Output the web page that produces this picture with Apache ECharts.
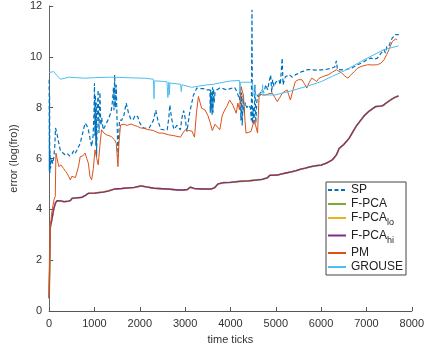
<!DOCTYPE html>
<html><head><meta charset="utf-8">
<script src="https://cdn.jsdelivr.net/npm/echarts@6/dist/echarts.min.js"></script>
<style>html,body{margin:0;padding:0;background:#fff}#c{width:427px;height:354px}</style>
</head><body><div id="c"></div>
<script>
var xTicks = [0,1000,2000,3000,4000,5000,6000,7000,8000];
var yTicks = [0,2,4,6,8,10,12];
var names = ['SP','F-PCA','F-PCA_lo','F-PCA_hi','PM','GROUSE'];

var spT = [0,5,10,15,20,30,50,80,105,125,141,170,214,250,286,350,400,450,504,540,576,620,685,740,793,830,866,900,938,970,990,1000,1010,1020,1030,1040,1047,1060,1080,1100,1120,1140,1160,1192,1240,1300,1340,1373,1400,1420,1430,1446,1460,1480,1500,1518,1540,1554,1600,1650,1700,1750,1808,1860,1900,1953,2000,2050,2098,2150,2207,2243,2300,2352,2400,2461,2530,2605,2640,2663,2700,2750,2820,2895,2930,2967,3000,3040,3100,3185,3257,3330,3402,3470,3547,3555,3565,3575,3585,3595,3605,3615,3625,3640,3660,3700,3765,3840,3910,4000,4091,4150,4200,4215,4230,4245,4260,4280,4300,4330,4360,4400,4440,4460,4475,4485,4500,4520,4540,4560,4580,4600,4640,4680,4707,4740,4780,4820,4850,4888,4910,4930,4960,5000,5069,5100,5141,5160,5213,5300,5360,5431,5500,5576,5650,5700,5793,5900,6011,6100,6228,6300,6337,6360,6446,6550,6663,6700,6808,6880,6953,7020,7098,7170,7243,7300,7350,7387,7420,7450,7496,7530,7570,7600,7641,7713];
var spV = [9.1,5.5,8.5,5.4,6.3,5.6,6.0,5.8,6.07,6.5,7.2,7.0,6.6,6.3,6.23,6.15,6.2,6.1,6.18,6.3,6.2,6.35,6.6,7.0,7.39,7.3,7.13,6.8,6.47,6.9,7.8,8.96,6.9,8.5,6.5,8.2,6.07,7.5,8.7,7.0,8.6,7.3,7.6,7.13,7.3,7.52,7.7,7.91,8.3,8.8,7.9,9.29,8.0,8.9,7.4,6.07,7.1,7.52,7.5,7.7,8.18,7.8,7.52,7.55,7.7,7.65,7.4,7.25,7.19,7.2,7.2,7.19,7.5,7.9,7.5,7.15,7.13,7.13,7.6,8.11,7.6,7.15,7.3,7.13,7.6,7.88,7.6,7.06,7.8,8.5,8.77,8.75,8.75,8.7,8.7,7.8,8.7,7.9,8.6,7.7,8.8,7.8,8.75,8.2,8.6,8.7,8.77,8.75,8.7,8.75,8.8,8.6,8.3,8.8,7.5,8.6,7.3,8.5,7.8,8.2,8.0,8.1,8.0,7.5,11.85,7.39,8.0,7.3,8.9,7.4,8.2,8.5,8.4,8.7,8.77,8.6,8.9,8.7,9.0,9.29,8.6,9.1,8.83,9.0,9.09,8.9,9.95,8.9,9.22,9.3,9.2,9.29,9.35,9.42,9.45,9.5,9.49,9.48,9.49,9.5,9.55,9.6,9.84,9.5,9.49,9.5,9.55,9.6,9.69,9.75,9.82,9.9,9.95,9.9,9.95,10.1,10.2,10.28,10.15,10.4,10.41,10.6,10.74,10.8,10.87,10.87];

var fpT = [0,10,20,35,50,80,105,140,178,250,330,420,467,504,600,721,800,866,1000,1192,1300,1446,1600,1880,2025,2150,2315,2600,2859,2967,3050,3113,3200,3400,3576,3650,3728,3850,4000,4200,4400,4600,4700,4815,4870,5033,5200,5360,5450,5550,5650,5750,5900,6000,6120,6250,6337,6400,6500,6620,6700,6770,6850,6950,7050,7200,7300,7360,7450,7530,7620,7707];
var fpV = [0.5,1.6,3.2,3.4,3.5,3.8,4.04,4.25,4.34,4.33,4.3,4.32,4.34,4.43,4.45,4.47,4.55,4.63,4.64,4.68,4.72,4.8,4.82,4.86,4.92,4.88,4.83,4.8,4.76,4.76,4.78,4.87,4.82,4.8,4.8,4.85,5.0,5.05,5.06,5.1,5.12,5.16,5.18,5.24,5.34,5.35,5.42,5.48,5.52,5.58,5.62,5.67,5.72,5.74,5.82,5.95,6.14,6.4,6.55,6.8,7.05,7.26,7.45,7.68,7.85,8.04,8.06,8.08,8.2,8.3,8.4,8.46];

var pmT = [0,20,60,110,135,150,214,260,322,360,395,430,467,500,540,580,612,650,685,740,793,830,866,900,938,975,1011,1050,1083,1120,1156,1210,1265,1320,1373,1446,1480,1518,1540,1575,1650,1720,1808,1880,1953,2020,2098,2150,2207,2300,2424,2500,2641,2750,2895,2950,3004,3080,3148,3207,3250,3293,3330,3365,3438,3500,3547,3600,3620,3660,3692,3765,3820,3873,3920,3982,4054,4127,4163,4200,4235,4286,4320,4344,4380,4453,4525,4570,4598,4634,4700,4779,4850,4924,4980,5033,5090,5141,5250,5322,5380,5431,5500,5576,5630,5685,5740,5793,5850,5902,5950,6011,6080,6156,6250,6337,6446,6520,6591,6660,6735,6800,6880,7026,7150,7243,7320,7387,7450,7496,7570,7641,7678];
var pmV = [0.6,3.2,3.9,4.4,4.5,6.21,5.68,5.75,5.6,5.5,5.42,5.3,5.16,5.3,5.35,5.25,5.3,5.7,6.07,6.1,6.21,6.0,5.81,5.3,5.16,5.6,6.34,6.0,5.75,6.5,7.13,7.0,6.93,6.9,6.86,6.73,6.6,5.68,6.6,7.32,7.35,7.3,7.36,7.3,7.26,7.2,7.19,7.15,7.13,7.1,7.0,7.0,6.93,6.9,6.84,7.0,7.13,7.1,7.08,6.84,7.8,8.44,8.2,7.98,7.91,7.7,7.45,7.1,7.13,7.35,7.32,7.13,7.7,7.91,8.05,8.3,8.1,7.78,8.18,7.91,8.83,8.5,7.5,7.0,6.93,7.06,7.52,7.2,7.0,8.57,8.5,8.5,8.55,8.57,8.4,8.24,8.4,8.57,8.7,8.3,8.7,9.03,9.1,9.1,8.95,8.77,9.0,9.16,9.1,9.03,9.15,9.2,9.25,9.29,9.4,9.49,9.38,9.25,9.16,9.3,9.42,9.55,9.62,9.69,9.68,9.69,9.75,9.88,10.1,10.28,10.6,10.7,10.68];

var grT = [0,100,180,250,330,430,600,793,1000,1373,1700,2098,2300,2310,2315,2320,2400,2600,2620,2640,2650,2665,2900,2915,2930,3145,3300,3500,3620,3837,4000,4200,4210,4220,4489,4500,4600,4700,4710,4720,4800,4989,5359,5700,6010,6228,6511,6946,7380,7707];
var grV = [9.38,9.42,9.25,9.12,9.15,9.2,9.18,9.16,9.18,9.2,9.18,9.16,9.12,9.1,8.35,9.05,9.05,9.02,8.4,9.0,8.5,8.97,8.92,8.63,8.9,8.8,8.85,8.9,8.92,9.0,9.05,9.07,8.6,9.0,9.0,8.5,8.5,8.6,8.9,8.5,8.5,8.5,8.67,8.85,9.03,9.22,9.45,9.88,10.28,10.43];

function pairs(t, v){ return t.map(function(x,i){ return [x, v[i]]; }); }

var chart = echarts.init(document.getElementById('c'), null, {renderer:'canvas'});
var txt = '#333333';
var ff = 'Liberation Sans, Arial, sans-serif';
function mk(name, t, v, color, width, type){
  return {name:name, type:'line', data:pairs(t,v), symbol:'none', animation:false,
    lineStyle:{color:color, width:width, type:type||'solid'}, itemStyle:{color:color}};
}
chart.setOption({
  animation:false,
  grid:{left:43, right:15, top:6, bottom:43, containLabel:false},
  xAxis:{type:'value', min:0, max:8000, interval:1000,
    name:'time ticks', nameLocation:'middle', nameGap:23,
    nameTextStyle:{color:txt, fontSize:11, fontFamily:ff},
    axisLine:{show:true, lineStyle:{color:'#555', width:1}},
    axisTick:{show:true, inside:true, length:4, lineStyle:{color:'#555'}},
    axisLabel:{color:txt, fontSize:11, margin:7, fontFamily:ff, formatter:function(v){ return String(v); }},
    splitLine:{show:false}},
  yAxis:{type:'value', min:0, max:12, interval:2,
    name:'error (log(fro))', nameLocation:'middle', nameGap:22, nameRotate:90,
    nameTextStyle:{color:txt, fontSize:11, fontFamily:ff},
    axisLine:{show:true, lineStyle:{color:'#666', width:1}},
    axisTick:{show:true, inside:true, length:4, lineStyle:{color:'#555'}},
    axisLabel:{color:txt, fontSize:11, margin:7, fontFamily:ff, formatter:function(v){ return String(v); }},
    splitLine:{show:false}},
  legend:{orient:'vertical', left:326, top:182, data:names,
    backgroundColor:'#fff', borderColor:'#444', borderWidth:1,
    padding:[2,3,2,1], itemGap:2, itemWidth:18, itemHeight:14,
    itemStyle:{opacity:0, borderWidth:0},
    textStyle:{color:'#222', fontSize:12, fontFamily:ff,
      rich:{m:{fontSize:12, color:'#222', fontFamily:ff, lineHeight:19, verticalAlign:'middle'},
            s:{fontSize:9, color:'#222', fontFamily:ff, lineHeight:19, verticalAlign:'bottom'}}},
    formatter:function(n){
      if(n==='F-PCA_lo') return '{m|F-PCA}{s|lo}';
      if(n==='F-PCA_hi') return '{m|F-PCA}{s|hi}';
      return n;
    }},
  series:[
    mk('SP', spT, spV, '#0072BD', 1.2, [4,2.5]),
    mk('F-PCA', fpT, fpV, '#77AC30', 1.6),
    mk('F-PCA_lo', fpT, fpV, '#EDB120', 1.4),
    mk('F-PCA_hi', fpT, fpV, '#7E2F8E', 1.3),
    mk('PM', pmT, pmV, '#D95319', 1),
    mk('GROUSE', grT, grV, '#4DBEEE', 1)
  ]
});
</script></body></html>
